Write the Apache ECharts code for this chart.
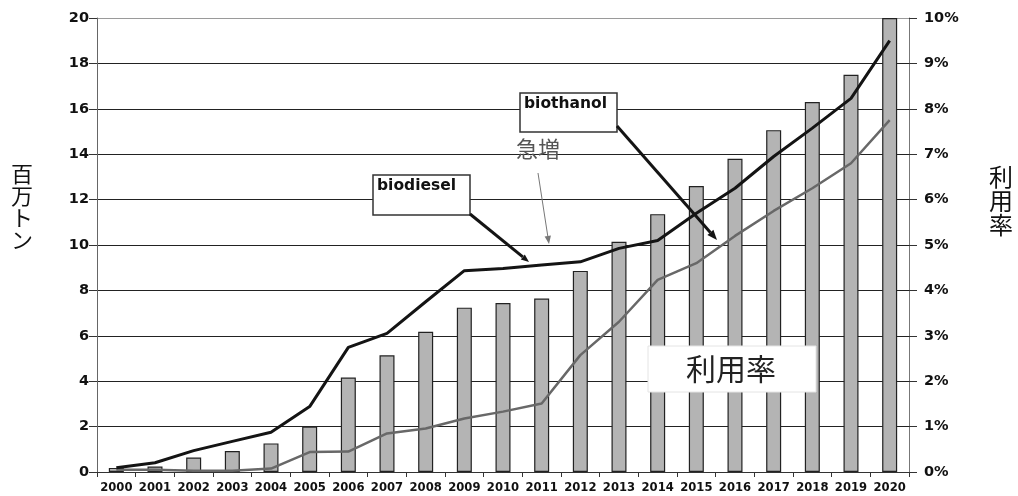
<!DOCTYPE html>
<html>
<head>
<meta charset="utf-8">
<script src="https://cdn.jsdelivr.net/npm/echarts@6/dist/echarts.min.js"></script>
<style>
  html, body { margin: 0; padding: 0; background: #fff; }
  #chart { width: 1018px; height: 496px; }
</style>
</head>
<body>
<div id="chart"></div>
<script>
// Years on the category axis
const years = ['2000','2001','2002','2003','2004','2005','2006','2007','2008','2009','2010',
               '2011','2012','2013','2014','2015','2016','2017','2018','2019','2020'];

// 利用率 (%), right axis — drawn as bars
const utilizationRate = [0.09, 0.12, 0.32, 0.46, 0.63, 1.0, 2.08, 2.57, 3.09, 3.62, 3.72,
                         3.82, 4.43, 5.07, 5.68, 6.3, 6.9, 7.53, 8.15, 8.75, 10.0];

// Production in 百万トン, left axis
const biodiesel = [0.19, 0.41, 0.94, 1.35, 1.75, 2.88, 5.49, 6.11, 7.5, 8.87, 8.97,
                   9.12, 9.26, 9.85, 10.2, 11.4, 12.5, 13.9, 15.15, 16.46, 19.0];
const biothanol = [0.1, 0.1, 0.05, 0.05, 0.15, 0.88, 0.9, 1.7, 1.92, 2.36, 2.66,
                   3.02, 5.15, 6.62, 8.46, 9.2, 10.4, 11.5, 12.5, 13.6, 15.5];

// Axis ranges
const leftAxis = { min: 0, max: 20, interval: 2 };
const rightAxis = { min: 0, max: 10, interval: 1 };

const tickFont = { fontFamily: 'DejaVu Sans', fontWeight: 'bold', color: '#111' };

// Arrow made of a shaft and a filled head
function arrow(x1, y1, x2, y2, width, color, head) {
  const a = Math.atan2(y2 - y1, x2 - x1);
  const hx = x2 - head * Math.cos(a), hy = y2 - head * Math.sin(a);
  const px = -Math.sin(a), py = Math.cos(a);
  const hw = head * 0.4;
  return [
    { type: 'line', z: 50, shape: { x1: x1, y1: y1, x2: hx, y2: hy },
      style: { stroke: color, lineWidth: width } },
    { type: 'polygon', z: 50,
      shape: { points: [[x2, y2], [hx + px * hw, hy + py * hw], [hx - px * hw, hy - py * hw]] },
      style: { fill: color } }
  ];
}

// Labelled callout box
function labelBox(x, y, w, h, text, font) {
  return [
    { type: 'rect', z: 50, shape: { x: x, y: y, width: w, height: h },
      style: { fill: '#fff', stroke: '#333', lineWidth: 1.5 } },
    { type: 'text', z: 51, x: x + 4, y: y + 3,
      style: { text: text, font: font, fill: '#111' } }
  ];
}

// 11 split lines (0..20); the top border is lighter
const splitColors = ['#222','#222','#222','#222','#222','#222','#222','#222','#222','#222','#9a9a9a'];

const option = {
  backgroundColor: '#fff',
  animation: false,
  grid: { left: 97, right: 109, top: 18, bottom: 24 },
  xAxis: {
    type: 'category',
    data: years,
    boundaryGap: true,
    axisLine: { lineStyle: { color: '#333', width: 1 } },
    axisTick: { show: true, length: 5, lineStyle: { color: '#333' } },
    axisLabel: Object.assign({ interval: 0, fontSize: 11.6, margin: 10 }, tickFont)
  },
  yAxis: [
    {
      type: 'value',
      min: leftAxis.min, max: leftAxis.max, interval: leftAxis.interval,
      axisLine: { show: true, lineStyle: { color: '#666', width: 1 } },
      axisTick: { show: true, length: 8, lineStyle: { color: '#333' } },
      axisLabel: Object.assign({ fontSize: 14.5, margin: 8 }, tickFont),
      splitLine: { show: true, lineStyle: { color: splitColors, width: 1 } }
    },
    {
      type: 'value',
      min: rightAxis.min, max: rightAxis.max, interval: rightAxis.interval,
      position: 'right',
      axisLine: { show: true, lineStyle: { color: '#777', width: 1 } },
      axisTick: { show: true, length: 8, lineStyle: { color: '#333' } },
      axisLabel: Object.assign({ fontSize: 14.5, margin: 15, formatter: '{value}%' }, tickFont),
      splitLine: { show: false }
    }
  ],
  series: [
    {
      name: '利用率',
      type: 'bar',
      yAxisIndex: 1,
      data: utilizationRate,
      barWidth: 15,
      itemStyle: { color: '#b4b4b4', borderColor: '#222', borderWidth: 1.2 },
      z: 2
    },
    {
      name: 'biodiesel',
      type: 'line',
      yAxisIndex: 0,
      data: biodiesel,
      showSymbol: false,
      lineStyle: { color: '#141414', width: 3 },
      z: 4
    },
    {
      name: 'biothanol',
      type: 'line',
      yAxisIndex: 0,
      data: biothanol,
      showSymbol: false,
      lineStyle: { color: '#686868', width: 2.5 },
      z: 3
    }
  ],
  graphic: [].concat(
    // axis titles
    [
      { type: 'text', x: 22, y: 207,
        style: { text: '百\n万\nト\nン', font: '22px "Noto Sans CJK JP"', fill: '#111',
                 align: 'center', verticalAlign: 'middle', lineHeight: 22 } },
      { type: 'text', x: 1001, y: 201,
        style: { text: '利\n用\n率', font: '24px "Noto Sans CJK JP"', fill: '#111',
                 align: 'center', verticalAlign: 'middle', lineHeight: 24 } }
    ],
    labelBox(373, 175, 97, 40, 'biodiesel', 'bold 15.5px "DejaVu Sans"'),
    labelBox(520, 93, 97, 39, 'biothanol', 'bold 15.5px "DejaVu Sans"'),
    arrow(470, 214, 529, 262, 3, '#141414', 8),
    arrow(617, 126, 717, 240, 3, '#141414', 10),
    arrow(538, 173, 549, 244, 1, '#777', 8),
    [
      { type: 'text', x: 538, y: 149, z: 51,
        style: { text: '急増', font: '22px "Noto Sans CJK JP"', fill: '#555',
                 align: 'center', verticalAlign: 'middle' } },
      { type: 'rect', z: 50, shape: { x: 648, y: 346, width: 168, height: 46 },
        style: { fill: '#fff', stroke: '#e4e4e4', lineWidth: 1 } },
      { type: 'text', x: 731, y: 369, z: 51,
        style: { text: '利用率', font: '30px "Noto Sans CJK JP"', fill: '#222',
                 align: 'center', verticalAlign: 'middle' } }
    ]
  )
};

const chart = echarts.init(document.getElementById('chart'), null, { renderer: 'canvas' });
chart.setOption(option);
</script>
</body>
</html>
